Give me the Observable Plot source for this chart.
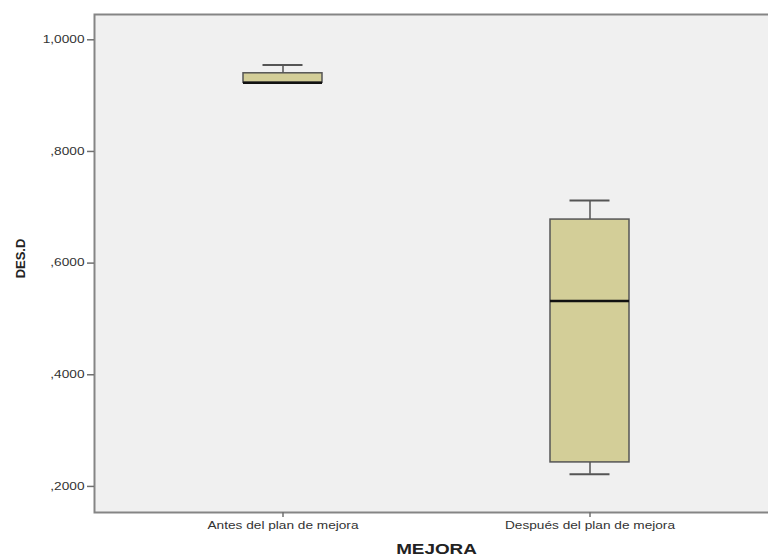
<!DOCTYPE html>
<html>
<head>
<meta charset="utf-8">
<script src="https://cdn.jsdelivr.net/npm/d3@7"></script>
<script src="https://cdn.jsdelivr.net/npm/@observablehq/plot@0.6"></script>
<style>
  html, body { margin: 0; padding: 0; background: #ffffff; overflow: hidden; }
  #chart { width: 768px; height: 560px; overflow: hidden; }
  #chart svg { max-width: none !important; }
  svg text { font-family: "Liberation Sans", Arial, sans-serif; }
</style>
</head>
<body>
<div id="chart"></div>
<script>
// Box plot summary of DES.D by MEJORA group
const groups  = ["Antes del plan de mejora", "Después del plan de mejora"];
const minimum = [0.923, 0.222];
const q1      = [0.923, 0.243];
const median  = [0.923, 0.532];
const q3      = [0.940, 0.678];
const maximum = [0.955, 0.712];
const yTicks  = [0.2, 0.4, 0.6, 0.8, 1.0];

const rows = groups.map((g, i) => ({
  group: g, min: minimum[i], q1: q1[i], median: median[i], q3: q3[i], max: maximum[i]
}));

// SPSS-style decimal labels: comma separator, no leading zero
const fmt = v => d3.format(".4f")(v).replace(".", ",").replace(/^0/, "");

const boxFill = "#d3ce98";
const boxStroke = "#555555";

const chart = Plot.plot({
  width: 778,
  height: 560,
  marginTop: 14,
  marginBottom: 48,
  marginLeft: 94,
  marginRight: 0,
  x: { domain: groups, paddingInner: 0.7435, paddingOuter: 0.4822, label: null },
  y: { domain: [0.1533, 1.0453], label: null },
  marks: [
    Plot.frame({ fill: "#f0f0f0", stroke: "#858585", strokeWidth: 2 }),
    // whiskers
    Plot.ruleX(rows, { x: "group", y1: "q3", y2: "max", stroke: boxStroke, strokeWidth: 1.5 }),
    Plot.ruleX(rows, { x: "group", y1: "min", y2: "q1", stroke: boxStroke, strokeWidth: 1.5 }),
    Plot.tickY(rows, { x: "group", y: "max", stroke: boxStroke, strokeWidth: 2, insetLeft: 19.5, insetRight: 19.5 }),
    Plot.tickY(rows, { x: "group", y: "min", stroke: boxStroke, strokeWidth: 2, insetLeft: 19.5, insetRight: 19.5 }),
    // boxes
    Plot.barY(rows, { x: "group", y1: "q1", y2: "q3", fill: boxFill, stroke: boxStroke, strokeWidth: 1.5 }),
    // medians
    Plot.tickY(rows, { x: "group", y: "median", stroke: "#111111", strokeWidth: 2.5 }),
    // axes
    Plot.axisY(yTicks, {
      tickFormat: fmt, tickSize: 7, tickPadding: 3, fontSize: 10.5,
      stroke: "#707070", strokeWidth: 1.5, fill: "#333333", label: null
    }),
    Plot.axisX({
      tickSize: 5, tickPadding: 4, fontSize: 10.5,
      stroke: "#707070", strokeWidth: 1.5, fill: "#333333", label: null
    }),
    // axis titles
    Plot.text(["MEJORA"], {
      frameAnchor: "bottom", dy: 41, fontSize: 14.5, fontWeight: "bold", fill: "#222222"
    }),
    Plot.text(["DES.D"], {
      frameAnchor: "left", textAnchor: "middle", rotate: -90, dx: -74, dy: -5,
      fontSize: 13, fontWeight: "bold", fill: "#222222"
    })
  ]
});

document.getElementById("chart").appendChild(chart);

// Widen the horizontal labels slightly, as in the SPSS export
d3.select(chart).selectAll("text").each(function () {
  if (this.textContent === "DES.D") return;
  const len = this.getComputedTextLength();
  this.setAttribute("textLength", (len * 1.3).toFixed(1));
  this.setAttribute("lengthAdjust", "spacingAndGlyphs");
});
</script>
</body>
</html>
